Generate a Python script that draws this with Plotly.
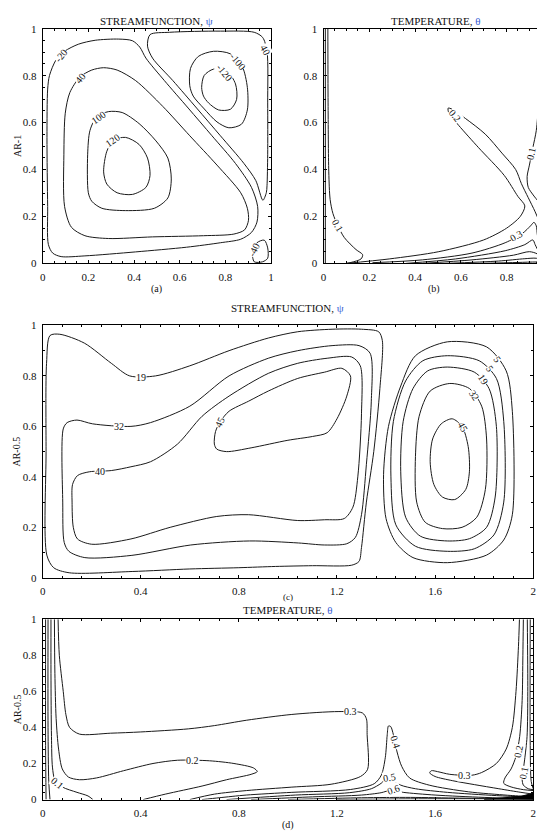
import plotly.graph_objects as go

SERIF = "Liberation Serif"
INK = "#1a1a1a"

# ---------------- tick labels ----------------
UNIT_TICKS = [0, 0.2, 0.4, 0.6, 0.8, 1]
UNIT_TICKTEXT = ["0", "0.2", "0.4", "0.6", "0.8", "1"]
WIDE_TICKS = [0, 0.4, 0.8, 1.2, 1.6, 2]
WIDE_TICKTEXT = ["0", "0.4", "0.8", "1.2", "1.6", "2"]

# ---------------- (a) streamfunction, AR = 1 ----------------
A_M20_X = [0.030,0.059,0.096,0.156,0.230,0.333,0.393,0.425,0.452,0.533,0.637,0.741,0.844,0.914,0.941,0.938,0.914,0.867,0.778,0.630,0.407,0.185,0.081,0.044,0.025,0.022,0.019,0.022,0.030]
A_M20_Y = [0.801,0.868,0.904,0.934,0.951,0.956,0.949,0.922,0.875,0.779,0.662,0.544,0.426,0.324,0.243,0.176,0.132,0.103,0.088,0.069,0.049,0.032,0.029,0.044,0.081,0.243,0.537,0.743,0.801]
A_40_X = [0.096,0.093,0.099,0.119,0.163,0.215,0.267,0.326,0.407,0.526,0.644,0.763,0.867,0.896,0.901,0.884,0.837,0.704,0.481,0.289,0.185,0.126,0.096]
A_40_Y = [0.243,0.463,0.640,0.728,0.794,0.824,0.834,0.824,0.779,0.669,0.544,0.419,0.301,0.235,0.184,0.143,0.125,0.118,0.113,0.106,0.118,0.154,0.243]
A_100_X = [0.200,0.197,0.207,0.237,0.289,0.348,0.422,0.496,0.548,0.563,0.548,0.489,0.363,0.259,0.215,0.200]
A_100_Y = [0.301,0.463,0.566,0.625,0.647,0.643,0.596,0.522,0.449,0.360,0.279,0.235,0.225,0.235,0.265,0.301]
A_120_X = [0.267,0.281,0.311,0.363,0.422,0.459,0.470,0.452,0.393,0.326,0.281,0.267]
A_120_Y = [0.390,0.478,0.525,0.537,0.507,0.449,0.375,0.324,0.294,0.301,0.338,0.390]
A_TR_X = [0.481,0.459,0.470,0.556,0.778,0.926,0.963,0.982,0.985,0.985,0.982,0.979,0.964,0.933,0.881,0.778,0.674,0.570,0.481]
A_TR_Y = [0.875,0.926,0.975,0.985,0.990,0.985,0.963,0.904,0.684,0.463,0.331,0.301,0.269,0.353,0.426,0.544,0.662,0.779,0.875]
A_M100_X = [0.644,0.647,0.681,0.748,0.822,0.874,0.896,0.896,0.870,0.815,0.763,0.704,0.659,0.644]
A_M100_Y = [0.757,0.831,0.882,0.904,0.893,0.838,0.750,0.654,0.593,0.578,0.603,0.662,0.713,0.757]
A_M120_X = [0.696,0.707,0.748,0.807,0.844,0.849,0.822,0.770,0.726,0.704,0.696]
A_M120_Y = [0.750,0.801,0.828,0.819,0.765,0.699,0.657,0.654,0.684,0.713,0.750]
A_M40_X = [0.926,0.919,0.938,0.970,0.985,0.985,0.963,0.926]
A_M40_Y = [0.007,0.051,0.088,0.099,0.066,0.022,0.007,0.007]
A_LABELS = [("-20", 0.080, 0.888, -50), ("40", 0.163, 0.790, -50), ("100", 0.245, 0.622, -35),
            ("120", 0.305, 0.525, -35), ("-100", 0.855, 0.862, 50), ("-120", 0.795, 0.812, 50),
            ("40", 0.972, 0.910, 60), ("-40", 0.925, 0.060, -65)]

# ---------------- (b) temperature, AR = 1 ----------------
B_W_X = [0.008, 0.008]
B_W_Y = [0.0, 1.0]
B_01L_X = [0.019,0.020,0.023,0.029,0.041,0.062,0.091,0.142,0.171,0.164,0.120,0.099]
B_01L_Y = [1.0,0.684,0.390,0.272,0.213,0.162,0.110,0.059,0.037,0.019,0.004,0.0]
B_01R_X = [0.945,0.945,0.940,0.930,0.915,0.900,0.890,0.895,0.920,0.955,0.975,0.990]
B_01R_Y = [1.0,0.831,0.684,0.566,0.493,0.419,0.370,0.324,0.287,0.243,0.184,0.120]
B_02_X = [0.099,0.287,0.504,0.700,0.800,0.860,0.880,0.850,0.790,0.678,0.591,0.548,0.545,0.562,0.620,0.707,0.780,0.840,0.865,0.895,0.925,0.950,0.965,0.985]
B_02_Y = [0.0,0.019,0.050,0.100,0.150,0.200,0.245,0.285,0.375,0.493,0.588,0.640,0.662,0.657,0.618,0.551,0.470,0.400,0.340,0.280,0.220,0.160,0.100,0.030]
B_03_X = [0.214,0.432,0.649,0.794,0.870,0.905,0.920,0.930,0.935,0.945,0.960,0.975,0.988]
B_03_Y = [0.003,0.015,0.044,0.088,0.128,0.160,0.175,0.160,0.120,0.080,0.050,0.030,0.020]
B_04_X = [0.360,0.577,0.794,0.880,0.915,0.925,0.940,0.950]
B_04_Y = [0.0,0.019,0.054,0.080,0.100,0.080,0.050,0.030]
B_05_X = [0.432,0.649,0.830,0.900,0.935,0.955]
B_05_Y = [0.0,0.015,0.035,0.050,0.040,0.020]
B_06_X = [0.533,0.765,0.880,0.930,0.960]
B_06_Y = [0.0,0.010,0.020,0.022,0.012]
B_07_X = [0.678,0.850,0.930,0.990]
B_07_Y = [0.0,0.004,0.006,0.004]
B_08_X = [0.945,0.955,0.962,0.972,0.990]
B_08_Y = [0.0,0.060,0.120,0.200,0.260]
B_FILL_X = [0.930,0.990,0.990,0.965,0.930]
B_FILL_Y = [0.0,0.0,0.160,0.060,0.0]
B_LABELS = [("0.1", 0.062, 0.160, 60), ("0.2", 0.575, 0.632, 50), ("0.1", 0.906, 0.470, -78),
            ("0.3", 0.845, 0.118, -30)]

# ---------------- (c) streamfunction, AR = 0.5 ----------------
C_19_X = [0.03,0.07,0.17,0.28,0.355,0.46,0.60,0.76,0.92,1.04,1.18,1.30,1.37,1.385,1.375,1.35,1.32,1.30,1.29,1.26,1.10,0.95,0.80,0.60,0.365,0.108,0.045,0.017,0.014,0.016,0.03]
C_19_Y = [0.96,0.965,0.93,0.85,0.80,0.80,0.84,0.90,0.95,0.975,0.985,0.985,0.975,0.94,0.75,0.50,0.30,0.12,0.065,0.05,0.048,0.045,0.04,0.035,0.025,0.02,0.04,0.09,0.50,0.85,0.96]
C_32_X = [0.084,0.10,0.14,0.204,0.36,0.44,0.60,0.76,0.92,1.04,1.18,1.29,1.335,1.34,1.32,1.30,1.275,1.24,1.15,1.043,0.844,0.604,0.364,0.172,0.107,0.088,0.082,0.084]
C_32_Y = [0.59,0.615,0.625,0.61,0.60,0.615,0.68,0.80,0.87,0.90,0.92,0.92,0.89,0.70,0.45,0.25,0.16,0.135,0.13,0.138,0.146,0.13,0.089,0.08,0.105,0.14,0.30,0.59]
C_40_X = [0.12,0.122,0.142,0.19,0.28,0.36,0.44,0.55,0.65,0.76,0.92,1.04,1.16,1.26,1.295,1.30,1.285,1.265,1.23,1.15,1.04,0.84,0.71,0.52,0.36,0.20,0.142,0.125,0.12]
C_40_Y = [0.30,0.37,0.405,0.42,0.425,0.44,0.46,0.53,0.64,0.72,0.81,0.85,0.87,0.875,0.84,0.65,0.40,0.28,0.235,0.23,0.227,0.25,0.243,0.20,0.154,0.133,0.154,0.20,0.30]
C_45_X = [0.70,0.705,0.725,0.76,0.84,0.92,1.04,1.15,1.22,1.255,1.24,1.20,1.16,1.10,1.00,0.85,0.75,0.71,0.70]
C_45_Y = [0.53,0.58,0.62,0.66,0.70,0.74,0.79,0.815,0.83,0.80,0.72,0.63,0.575,0.56,0.545,0.515,0.50,0.51,0.53]
C_R1_X = [1.65,1.81,1.89,1.915,1.915,1.88,1.81,1.65,1.51,1.44,1.40,1.39,1.41,1.46,1.52,1.65]
C_R1_Y = [0.935,0.915,0.82,0.66,0.25,0.15,0.09,0.06,0.08,0.14,0.235,0.41,0.60,0.76,0.88,0.935]
C_R2_X = [1.65,1.78,1.85,1.88,1.88,1.84,1.76,1.65,1.52,1.44,1.42,1.43,1.48,1.55,1.65]
C_R2_Y = [0.88,0.86,0.79,0.62,0.30,0.17,0.115,0.105,0.125,0.21,0.40,0.62,0.78,0.86,0.88]
C_R3_X = [1.65,1.76,1.82,1.85,1.845,1.81,1.74,1.65,1.54,1.48,1.46,1.47,1.51,1.57,1.65]
C_R3_Y = [0.835,0.815,0.75,0.60,0.32,0.20,0.155,0.146,0.165,0.24,0.42,0.62,0.75,0.82,0.835]
C_R4_X = [1.66,1.74,1.79,1.81,1.805,1.77,1.71,1.63,1.56,1.525,1.52,1.535,1.58,1.66]
C_R4_Y = [0.77,0.75,0.68,0.55,0.35,0.24,0.20,0.195,0.22,0.30,0.48,0.64,0.74,0.77]
C_R5_X = [1.67,1.71,1.735,1.74,1.725,1.68,1.63,1.595,1.58,1.59,1.625,1.67]
C_R5_Y = [0.63,0.60,0.52,0.42,0.35,0.31,0.32,0.37,0.46,0.55,0.61,0.63]
C_LABELS = [("19", 0.40, 0.795, 0), ("32", 0.31, 0.600, 0), ("40", 0.235, 0.423, 0),
            ("45", 0.722, 0.615, -65), ("45", 1.712, 0.600, 60), ("32", 1.760, 0.722, 55),
            ("19", 1.796, 0.785, 55), ("5", 1.822, 0.828, 55), ("5", 1.855, 0.866, 55)]

# ---------------- (d) temperature, AR = 0.5 ----------------
D_WL1_X = [0.012,0.012,0.014]
D_WL1_Y = [1.0,0.3,0.0]
D_WL2_X = [0.022,0.022,0.025,0.030]
D_WL2_Y = [1.0,0.4,0.1,0.0]
D_01_X = [0.034,0.034,0.036,0.040,0.050,0.080,0.140,0.185,0.205]
D_01_Y = [1.0,0.7,0.35,0.18,0.11,0.07,0.04,0.02,0.0]
D_02_X = [0.048,0.050,0.055,0.065,0.080,0.105,0.150,0.220,0.330,0.450,0.550,0.680,0.780,0.860,0.875,0.850,0.750,0.650,0.500,0.410]
D_02_Y = [1.0,0.7,0.45,0.28,0.17,0.125,0.11,0.12,0.16,0.20,0.218,0.215,0.20,0.175,0.155,0.14,0.11,0.075,0.03,0.0]
D_03_X = [0.063,0.068,0.084,0.095,0.110,0.150,0.277,0.400,0.594,0.700,0.832,1.016,1.208,1.304,1.320,1.323,1.325,1.296,1.176,1.016,0.832,0.700,0.600]
D_03_Y = [1.0,0.8,0.6,0.47,0.40,0.363,0.368,0.375,0.392,0.41,0.44,0.472,0.488,0.48,0.448,0.36,0.168,0.128,0.085,0.069,0.05,0.03,0.0]
D_04_X = [0.650,0.720,0.830,1.016,1.256,1.352,1.381,1.397,1.405,1.410,1.419,1.430,1.445,1.464,1.496,1.576,1.736,1.896,1.976,2.0]
D_04_Y = [0.0,0.01,0.025,0.04,0.056,0.088,0.136,0.232,0.36,0.408,0.405,0.36,0.264,0.184,0.12,0.08,0.043,0.024,0.016,0.008]
D_05_X = [0.75,1.03,1.25,1.34,1.38,1.405,1.43,1.46,1.52,1.65,1.85,2.0]
D_05_Y = [0.0,0.025,0.038,0.06,0.09,0.118,0.105,0.08,0.06,0.04,0.022,0.012]
D_06_X = [0.85,1.10,1.30,1.38,1.42,1.47,1.60,1.80,2.0]
D_06_Y = [0.0,0.015,0.025,0.038,0.052,0.04,0.025,0.012,0.004]
D_07_X = [1.0,1.3,1.5,1.7,1.9,2.0]
D_07_Y = [0.0,0.01,0.012,0.008,0.005,0.002]
D_08_X = [1.2,1.5,1.8,2.0]
D_08_Y = [0.0,0.004,0.004,0.001]
D_R03_X = [1.944,1.940,1.930,1.915,1.890,1.850,1.790,1.750,1.660,1.610,1.585,1.578,1.600,1.670,1.760,1.860,1.950,2.0]
D_R03_Y = [1.0,0.85,0.6,0.40,0.28,0.20,0.15,0.135,0.14,0.155,0.16,0.148,0.128,0.105,0.083,0.06,0.04,0.03]
D_R02_X = [1.960,1.958,1.955,1.945,1.930,1.910,1.885,1.880,1.910,1.960,2.0]
D_R02_Y = [1.0,0.8,0.55,0.35,0.24,0.17,0.12,0.09,0.07,0.055,0.05]
D_R01_X = [1.976,1.978,1.975,1.965,1.958,1.955,1.960,1.980,2.0]
D_R01_Y = [1.0,0.6,0.35,0.22,0.15,0.11,0.08,0.06,0.055]
D_RW_X = [1.988,1.988,1.992,2.0]
D_RW_Y = [1.0,0.3,0.1,0.06]
D_FILL_X = [1.80,2.0,2.0,1.95,1.80]
D_FILL_Y = [0.0,0.0,0.035,0.018,0.0]
D_LABELS = [("0.1", 0.062, 0.090, 40), ("0.2", 0.610, 0.218, 0), ("0.3", 1.256, 0.490, 0),
            ("0.4", 1.437, 0.320, 72), ("0.5", 1.415, 0.125, -10), ("0.6", 1.430, 0.058, -20),
            ("0.3", 1.720, 0.132, 0), ("0.2", 1.942, 0.270, -80), ("0.1", 1.962, 0.150, -80)]

PANEL_LINES = {
    "": [(A_M20_X, A_M20_Y), (A_40_X, A_40_Y), (A_100_X, A_100_Y), (A_120_X, A_120_Y),
         (A_TR_X, A_TR_Y), (A_M100_X, A_M100_Y), (A_M120_X, A_M120_Y), (A_M40_X, A_M40_Y)],
    "2": [(B_W_X, B_W_Y), (B_01L_X, B_01L_Y), (B_01R_X, B_01R_Y), (B_02_X, B_02_Y), (B_03_X, B_03_Y),
          (B_04_X, B_04_Y), (B_05_X, B_05_Y), (B_06_X, B_06_Y), (B_07_X, B_07_Y), (B_08_X, B_08_Y)],
    "3": [(C_19_X, C_19_Y), (C_32_X, C_32_Y), (C_40_X, C_40_Y), (C_45_X, C_45_Y), (C_R1_X, C_R1_Y),
          (C_R2_X, C_R2_Y), (C_R3_X, C_R3_Y), (C_R4_X, C_R4_Y), (C_R5_X, C_R5_Y)],
    "4": [(D_WL1_X, D_WL1_Y), (D_WL2_X, D_WL2_Y), (D_01_X, D_01_Y), (D_02_X, D_02_Y), (D_03_X, D_03_Y),
          (D_04_X, D_04_Y), (D_05_X, D_05_Y), (D_06_X, D_06_Y), (D_07_X, D_07_Y), (D_08_X, D_08_Y),
          (D_R03_X, D_R03_Y), (D_R02_X, D_R02_Y), (D_R01_X, D_R01_Y), (D_RW_X, D_RW_Y)],
}
PANEL_FILLS = {"2": [(B_FILL_X, B_FILL_Y)], "4": [(D_FILL_X, D_FILL_Y)]}
PANEL_LABELS = {"": A_LABELS, "2": B_LABELS, "3": C_LABELS, "4": D_LABELS}

fig = go.Figure()
for ax, lines in PANEL_LINES.items():
    for xs, ys in lines:
        fig.add_trace(go.Scatter(x=xs, y=ys, mode="lines", xaxis="x" + ax, yaxis="y" + ax,
                                 line=dict(color=INK, width=1, shape="spline", smoothing=0.8),
                                 hoverinfo="skip", showlegend=False))
for ax, fills in PANEL_FILLS.items():
    for xs, ys in fills:
        fig.add_trace(go.Scatter(x=xs, y=ys, mode="lines", fill="toself", fillcolor="#000",
                                 xaxis="x" + ax, yaxis="y" + ax, line=dict(color="#000", width=1),
                                 hoverinfo="skip", showlegend=False))
for ax, labels in PANEL_LABELS.items():
    for text, x, y, ang in labels:
        fig.add_annotation(x=x, y=y, xref="x" + ax, yref="y" + ax, text=text, showarrow=False,
                           textangle=ang, bgcolor="white", borderpad=0,
                           font=dict(family=SERIF, size=10, color="#111"))


def axis(rng, domain, anchor, tickvals, ticktext, minor_dtick):
    return dict(range=rng, domain=domain, anchor=anchor, tickmode="array", tickvals=tickvals,
                ticktext=ticktext, ticks="inside", ticklen=3, tickcolor="black", tickwidth=1,
                showline=True, linecolor="black", linewidth=1, mirror="allticks",
                showgrid=False, zeroline=False, ticklabelstandoff=3,
                tickfont=dict(family=SERIF, size=11, color="#111"),
                minor=dict(tickmode="linear", tick0=0, dtick=minor_dtick, ticks="inside",
                           ticklen=2, tickcolor="black", showgrid=False))


XA = [0.0587, 0.4826]
XB = [0.5798, 1.0]
XC = [0.0587, 0.9688]
YA = [0.6977, 0.9821]
YC = [0.3166, 0.6225]
YD = [0.0478, 0.2664]

fig.update_layout(
    width=545, height=837, margin=dict(l=0, r=0, t=0, b=0), autosize=False,
    paper_bgcolor="white", plot_bgcolor="white", showlegend=False,
    xaxis=axis([0, 1], XA, "y", UNIT_TICKS, UNIT_TICKTEXT, 0.05),
    yaxis=axis([0, 1], YA, "x", UNIT_TICKS, UNIT_TICKTEXT, 0.05),
    xaxis2=axis([0, 0.99], XB, "y2", UNIT_TICKS, UNIT_TICKTEXT, 0.05),
    yaxis2=axis([0, 1], YA, "x2", UNIT_TICKS, UNIT_TICKTEXT, 0.05),
    xaxis3=axis([0, 2], XC, "y3", WIDE_TICKS, WIDE_TICKTEXT, 0.08),
    yaxis3=axis([0, 1], YC, "x3", UNIT_TICKS, UNIT_TICKTEXT, 0.1),
    xaxis4=axis([0, 2], XC, "y4", WIDE_TICKS, WIDE_TICKTEXT, 0.08),
    yaxis4=axis([0, 1], YD, "x4", UNIT_TICKS, UNIT_TICKTEXT, 0.04),
)

BLUE = "#3a62d6"
PSI = "STREAMFUNCTION, <span style='color:%s'>ψ</span>" % BLUE
THETA = "TEMPERATURE, <span style='color:%s'>θ</span>" % BLUE
PAGE_TEXT = [
    (PSI, 0.2707, 0.9916, 0, 11), (THETA, 0.789, 0.9916, 0, 11),
    ("(a)", 0.2707, 0.6667, 0, 10), ("(b)", 0.785, 0.6667, 0, 10),
    (PSI, 0.5138, 0.6440, 0, 11), ("(c)", 0.5138, 0.2939, 0, 9),
    (THETA, 0.5138, 0.2778, 0, 11), ("(d)", 0.5138, 0.0167, 0, 10),
    ("AR-1", 0.0110, 0.8398, -90, 10), ("AR-0.5", 0.0110, 0.4695, -90, 10),
    ("AR-0.5", 0.0110, 0.1571, -90, 10),
]
for text, x, y, ang, size in PAGE_TEXT:
    fig.add_annotation(x=x, y=y, xref="paper", yref="paper", text=text, showarrow=False,
                       textangle=ang, xanchor="center", yanchor="middle",
                       font=dict(family=SERIF, size=size, color="#111"))

fig.write_html("out.html")
